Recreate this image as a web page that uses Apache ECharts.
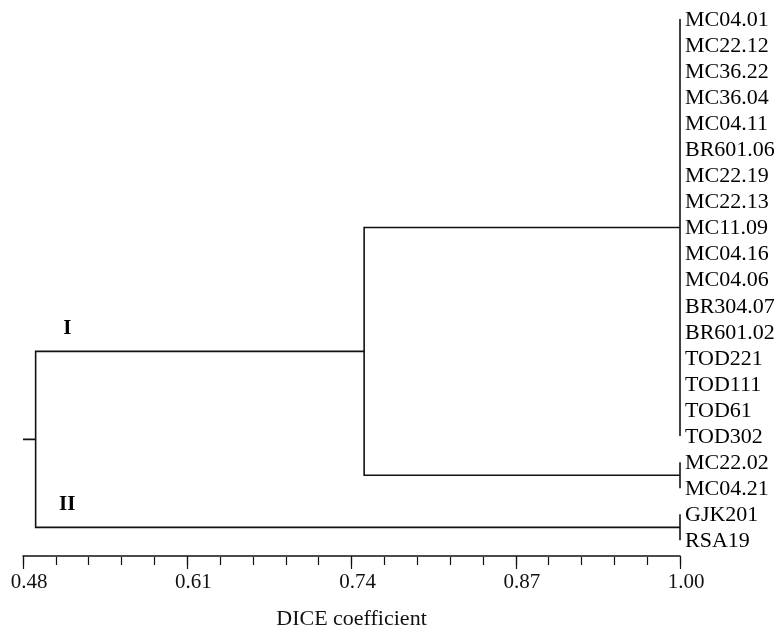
<!DOCTYPE html>
<html>
<head>
<meta charset="utf-8">
<script src="https://cdn.jsdelivr.net/npm/echarts@6/dist/echarts.min.js"></script>
<style>
  html, body { margin: 0; padding: 0; background: #fff; }
  #chart { width: 781px; height: 635px; }
</style>
</head>
<body>
<div id="chart"></div>
<script>
// leaves, top to bottom
const leaves = [
  'MC04.01', 'MC22.12', 'MC36.22', 'MC36.04', 'MC04.11', 'BR601.06',
  'MC22.19', 'MC22.13', 'MC11.09', 'MC04.16', 'MC04.06', 'BR304.07',
  'BR601.02', 'TOD221', 'TOD111', 'TOD61', 'TOD302', 'MC22.02',
  'MC04.21', 'GJK201', 'RSA19'
]

// groups of identical leaves (first row, last row) and where they join
const groupRows = [[0, 16], [17, 18], [19, 20]]
const groupSimilarity = [1.00, 1.00, 1.00]

// higher merges: children are node indexes (0-2 = groups, 3 = first merge ...)
const mergeChildren = [[0, 1], [3, 2]]
const mergeSimilarity = [0.75, 0.49]
const rootStart = 0.48

const clusterNames = ['I', 'II']

const majorTicks = [0.48, 0.61, 0.74, 0.87, 1.00]
const minorTicks = [
  0.48, 0.506, 0.532, 0.558, 0.584, 0.61, 0.636, 0.662, 0.688, 0.714, 0.74,
  0.766, 0.792, 0.818, 0.844, 0.87, 0.896, 0.922, 0.948, 0.974, 1.00
]

// build the tree segments
const nodeSim = groupSimilarity.slice()
const nodeY = groupRows.map(r => (r[0] + r[1]) / 2)
const segments = groupRows.map((r, i) => [[groupSimilarity[i], r[0]], [groupSimilarity[i], r[1]]])
mergeChildren.forEach(([a, b], k) => {
  const s = mergeSimilarity[k]
  segments.push([[nodeSim[a], nodeY[a]], [s, nodeY[a]], [s, nodeY[b]], [nodeSim[b], nodeY[b]]])
  nodeSim.push(s)
  nodeY.push((nodeY[a] + nodeY[b]) / 2)
})
const root = nodeSim.length - 1
segments.push([[nodeSim[root], nodeY[root]], [rootStart, nodeY[root]]])

// leaf label points
const leafPoints = leaves.map((name, i) => {
  const g = groupRows.findIndex(r => i >= r[0] && i <= r[1])
  return [groupSimilarity[g], i]
})

// cluster I sits on node 3, II on node 2
const clusterNodes = [3, 2]
const clusterPoints = clusterNodes.map(n => [0.515, nodeY[n]])

const serif = '"Liberation Serif", "DejaVu Serif", serif'
const ink = '#111'
const gridBox = { left: 23, right: 101, top: 6, bottom: 78 }

const chart = echarts.init(document.getElementById('chart'))
chart.setOption({
  animation: false,
  backgroundColor: '#fff',
  grid: [gridBox, gridBox],
  xAxis: [
    {
      type: 'value', min: 0.48, max: 1.00, gridIndex: 0, position: 'bottom',
      axisLine: { show: true, onZero: false, lineStyle: { color: ink, width: 1.5 } },
      axisTick: { show: true, length: 13, customValues: majorTicks, lineStyle: { color: ink, width: 1.2 } },
      axisLabel: {
        customValues: majorTicks, margin: 16, padding: [0, 0, 0, 12],
        formatter: v => v.toFixed(2),
        fontFamily: serif, fontSize: 21, color: ink
      },
      splitLine: { show: false },
      name: 'DICE coefficient', nameLocation: 'middle', nameGap: 52,
      nameTextStyle: { fontFamily: serif, fontSize: 22, color: ink }
    },
    {
      type: 'value', min: 0.48, max: 1.00, gridIndex: 1, position: 'bottom',
      axisLine: { show: false, onZero: false },
      axisTick: { show: true, length: 8, customValues: minorTicks, lineStyle: { color: ink, width: 1.2 } },
      axisLabel: { show: false },
      splitLine: { show: false }
    }
  ],
  yAxis: [
    { type: 'value', inverse: true, min: -0.5, max: 20.6, show: false, gridIndex: 0 },
    { type: 'value', inverse: true, min: -0.5, max: 20.6, show: false, gridIndex: 1 }
  ],
  series: [
    {
      type: 'lines',
      coordinateSystem: 'cartesian2d',
      polyline: true,
      silent: true,
      lineStyle: { color: ink, width: 1.6, opacity: 1 },
      data: segments.map(c => ({ coords: c }))
    },
    {
      type: 'scatter',
      symbolSize: 0,
      itemStyle: { color: ink },
      silent: true,
      data: leafPoints,
      label: {
        show: true, position: 'right', distance: 5,
        formatter: p => leaves[p.dataIndex],
        fontFamily: serif, fontSize: 22, color: '#000', opacity: 1, offset: [0, 1]
      }
    },
    {
      type: 'scatter',
      symbolSize: 0,
      itemStyle: { color: ink },
      silent: true,
      data: clusterPoints,
      label: {
        show: true, position: 'inside',
        formatter: p => clusterNames[p.dataIndex],
        fontFamily: serif, fontWeight: 'bold', fontSize: 21, color: '#000', opacity: 1,
        textBorderWidth: 0, offset: [0, -23]
      }
    }
  ]
})
</script>
</body>
</html>
